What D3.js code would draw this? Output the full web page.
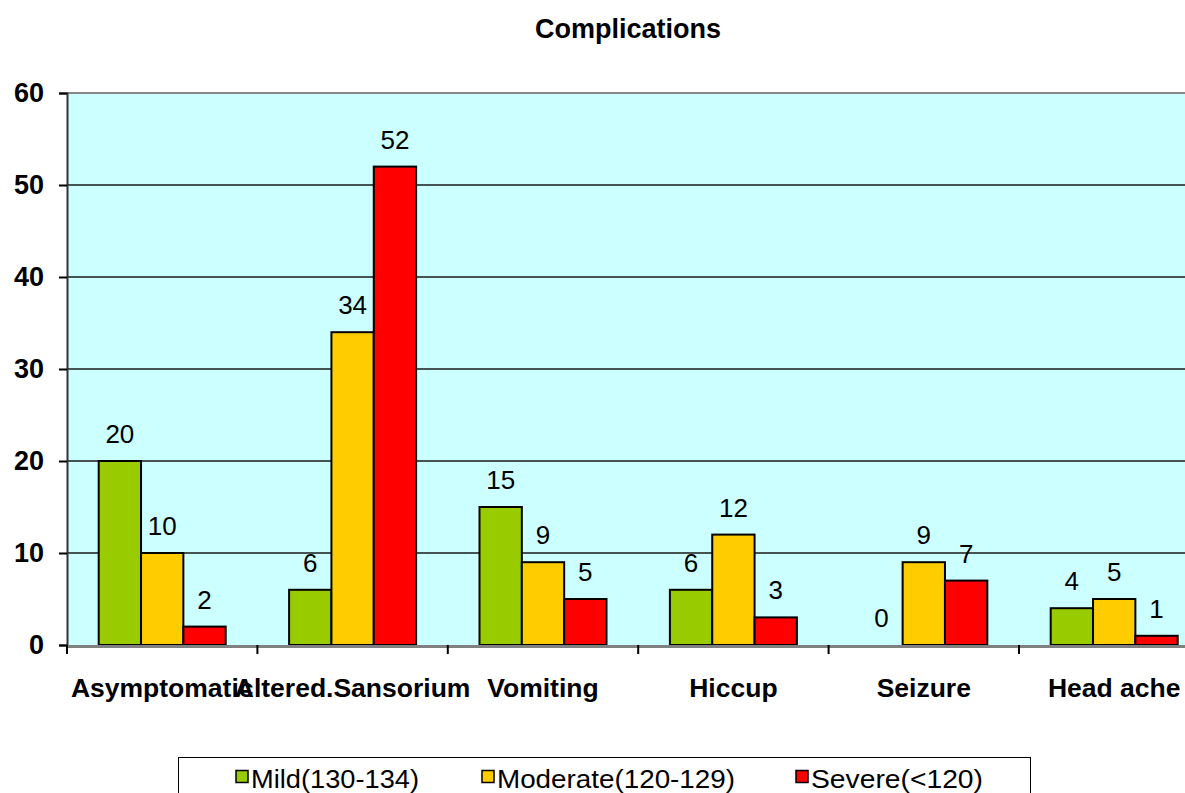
<!DOCTYPE html>
<html>
<head>
<meta charset="utf-8">
<script src="https://cdn.jsdelivr.net/npm/d3@7"></script>
<style>
  html, body { margin: 0; padding: 0; background: #fff; }
  svg { display: block; }
  text { font-family: "Liberation Sans", Arial, sans-serif; }
</style>
</head>
<body>
<svg id="chart" width="1185" height="793"></svg>
<script>
// Complications by sodium level group
const categories = ["Asymptomatic", "Altered.Sansorium", "Vomiting", "Hiccup", "Seizure", "Head ache"];
const seriesNames = ["Mild(130-134)", "Moderate(120-129)", "Severe(<120)"];
const mild = [20, 6, 15, 6, 0, 4];
const moderate = [10, 34, 9, 12, 9, 5];
const severe = [2, 52, 5, 3, 7, 1];
const yTicks = [0, 10, 20, 30, 40, 50, 60];
const colors = ["#99CC00", "#FFCC00", "#FF0000"];

const seriesValues = [mild, moderate, severe];
const rows = categories.map((c, i) => ({
  category: c,
  values: seriesNames.map((s, j) => ({ series: s, idx: j, value: seriesValues[j][i] }))
}));

const svg = d3.select("#chart");
const plotLeft = 67, plotTop = 93, plotBottom = 645;
const step = 190.4;
const plotRight = plotLeft + categories.length * step;

const x0 = d3.scaleBand().domain(categories).range([plotLeft, plotRight])
  .paddingInner(0.333).paddingOuter(0.1665);
const x1 = d3.scaleBand().domain(seriesNames).range([0, x0.bandwidth()]);
const y = d3.scaleLinear().domain([0, 60]).range([plotBottom, plotTop]);

// plot background
svg.append("rect").attr("x", plotLeft).attr("y", plotTop)
  .attr("width", plotRight - plotLeft).attr("height", plotBottom - plotTop)
  .attr("fill", "#CCFFFF");

// horizontal gridlines
svg.append("g").selectAll("line").data(yTicks.filter(t => t > 0 && t < 60)).join("line")
  .attr("x1", plotLeft).attr("x2", plotRight)
  .attr("y1", d => y(d)).attr("y2", d => y(d))
  .attr("stroke", "#1a1a1a").attr("stroke-width", 1.3);

// top border
svg.append("line").attr("x1", plotLeft).attr("x2", plotRight)
  .attr("y1", y(60)).attr("y2", y(60))
  .attr("stroke", "#888").attr("stroke-width", 2);

// bars
const groups = svg.append("g").selectAll("g").data(rows).join("g")
  .attr("transform", d => `translate(${x0(d.category)},0)`);

groups.selectAll("rect").data(d => d.values.filter(v => v.value > 0)).join("rect")
  .attr("x", d => x1(d.series))
  .attr("y", d => y(d.value))
  .attr("width", x1.bandwidth())
  .attr("height", d => y(0) - y(d.value))
  .attr("fill", d => colors[d.idx])
  .attr("stroke", "#000").attr("stroke-width", 2);

// value labels
groups.selectAll("text").data(d => d.values).join("text")
  .attr("x", d => x1(d.series) + x1.bandwidth() / 2)
  .attr("y", d => y(d.value) - 18)
  .attr("text-anchor", "middle")
  .attr("font-size", 26)
  .attr("fill", "#000")
  .text(d => d.value);

// y axis
const yAxis = d3.axisLeft(y).tickValues(yTicks).tickSize(8).tickPadding(15).tickFormat(d3.format("d"));
const yg = svg.append("g").attr("transform", `translate(${plotLeft},0)`).call(yAxis);
yg.select(".domain").attr("stroke", "#333").attr("stroke-width", 2);
yg.selectAll(".tick line").attr("stroke", "#000").attr("stroke-width", 2);
yg.selectAll(".tick text").attr("font-size", 27).attr("font-weight", "bold")
  .attr("font-family", "Liberation Sans, Arial, sans-serif").attr("fill", "#000");

// x axis baseline
svg.append("line").attr("x1", plotLeft).attr("x2", plotRight)
  .attr("y1", plotBottom + 1.5).attr("y2", plotBottom + 1.5)
  .attr("stroke", "#808080").attr("stroke-width", 3);

// category boundary ticks
const boundaries = d3.range(categories.length + 1).map(i => plotLeft + i * step);
svg.append("g").selectAll("line").data(boundaries).join("line")
  .attr("x1", d => d).attr("x2", d => d)
  .attr("y1", plotBottom).attr("y2", plotBottom + 9)
  .attr("stroke", "#000").attr("stroke-width", 2);

// category labels
svg.append("g").selectAll("text").data(categories).join("text")
  .attr("x", d => x0(d) + x0.bandwidth() / 2)
  .attr("y", 697)
  .attr("text-anchor", "middle")
  .attr("font-size", 26.5)
  .attr("font-weight", "bold")
  .attr("fill", "#000")
  .text(d => d);

// title
svg.append("text").attr("x", 628).attr("y", 38)
  .attr("text-anchor", "middle")
  .attr("font-size", 27).attr("font-weight", "bold")
  .text("Complications");

// legend
const legend = svg.append("g");
legend.append("rect").attr("x", 178.5).attr("y", 757.5)
  .attr("width", 852).attr("height", 60)
  .attr("fill", "#fff").attr("stroke", "#000").attr("stroke-width", 1);

const legendItems = [
  { name: seriesNames[0], sx: 236, tx: 251, w: 168 },
  { name: seriesNames[1], sx: 482, tx: 497, w: 238 },
  { name: seriesNames[2], sx: 796, tx: 811, w: 172 }
];
legendItems.forEach((it, i) => {
  legend.append("rect").attr("x", it.sx).attr("y", 770.5)
    .attr("width", 12).attr("height", 12)
    .attr("fill", colors[i]).attr("stroke", "#000").attr("stroke-width", 1.5);
  legend.append("text").attr("x", it.tx).attr("y", 788)
    .attr("font-size", 25)
    .attr("textLength", it.w).attr("lengthAdjust", "spacingAndGlyphs")
    .text(it.name);
});
</script>
</body>
</html>
